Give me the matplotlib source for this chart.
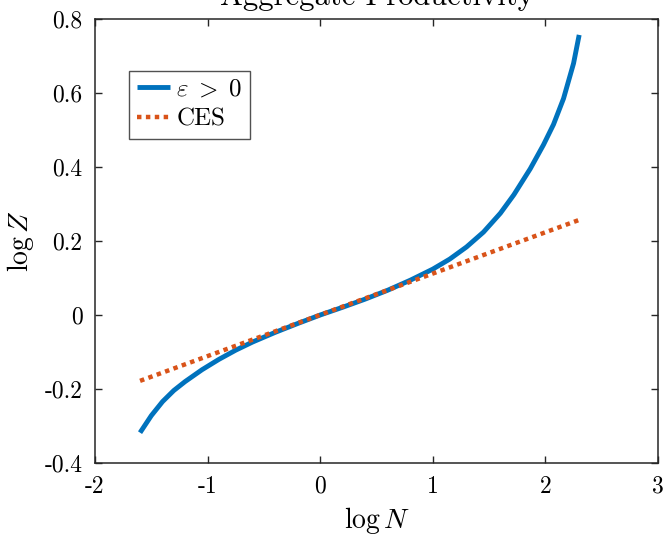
import matplotlib
matplotlib.use("Agg")
import matplotlib.pyplot as plt

plt.rcParams['font.family'] = ['cmr10']
plt.rcParams['mathtext.fontset'] = 'cm'
plt.rcParams['axes.unicode_minus'] = False
plt.rcParams['axes.formatter.use_mathtext'] = False

# Data
log_n = [-1.6, -1.5, -1.4, -1.3, -1.2, -1.05, -0.9, -0.75, -0.6, -0.4, -0.2,
         0.0, 0.2, 0.4, 0.6, 0.8, 1.0, 1.15, 1.3, 1.45, 1.6, 1.72,
         1.865, 1.983, 2.072, 2.161, 2.25, 2.3]
log_z_eps = [-0.318, -0.272, -0.234, -0.204, -0.180, -0.148, -0.120, -0.095,
             -0.073, -0.047, -0.023, 0.0, 0.021, 0.043, 0.067, 0.094, 0.124,
             0.151, 0.184, 0.224, 0.275, 0.325, 0.395, 0.460, 0.515,
             0.585, 0.680, 0.757]
ces_n = [-1.6, 2.3]
ces_z = [-0.178, 0.257]

xticks = [-2, -1, 0, 1, 2, 3]
yticks = [-0.4, -0.2, 0, 0.2, 0.4, 0.6, 0.8]
xtick_labels = ['-2', '-1', '0', '1', '2', '3']
ytick_labels = ['-0.4', '-0.2', '0', '0.2', '0.4', '0.6', '0.8']

W, H = 668, 538
fig = plt.figure(figsize=(W / 100, H / 100), dpi=100)
ax = fig.add_axes([95 / W, (H - 463) / H, (658 - 95) / W, (463 - 19) / H])

ax.plot(log_n, log_z_eps, color='#0072BD', lw=3.5, label=r'$\varepsilon\;>\;0$',
        solid_capstyle='butt', solid_joinstyle='round')
ax.plot(ces_n, ces_z, color='#D95319', lw=3.2, ls=(0, (1, 1)), label='CES')

ax.set_xlim(-2, 3)
ax.set_ylim(-0.4, 0.8)
ax.set_xticks(xticks)
ax.set_xticklabels(xtick_labels)
ax.set_yticks(yticks)
ax.set_yticklabels(ytick_labels)
ax.tick_params(direction='in', top=True, right=True, length=5, width=1,
               labelsize=17, colors='#262626', labelcolor='black')
ax.tick_params(axis='x', pad=9)
ax.tick_params(axis='y', pad=9)
for s in ax.spines.values():
    s.set_color('#262626')
    s.set_linewidth(1.1)

ax.set_xlabel(r'$\log N$', fontsize=20, labelpad=5)
ax.set_ylabel(r'$\log Z$', fontsize=20, labelpad=6)
ax.set_title('Aggregate Productivity', fontsize=22, pad=10)

leg = ax.legend(loc='upper left', bbox_to_anchor=((129 - 95) / 563, (463 - 71) / 444),
                fontsize=18, frameon=True, fancybox=False, handlelength=1.35,
                handletextpad=0.25, borderpad=0.3, labelspacing=0.3, borderaxespad=0)
leg.get_frame().set_edgecolor('#262626')
leg.get_frame().set_linewidth(1.0)

fig.savefig('out.png', dpi=100)
